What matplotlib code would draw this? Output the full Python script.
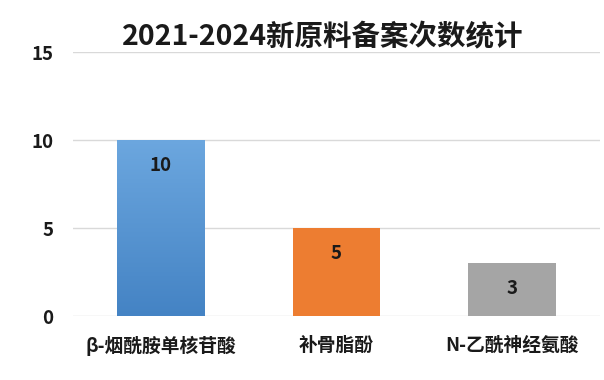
import matplotlib.pyplot as plt
import numpy as np
from matplotlib.colors import LinearSegmentedColormap

plt.rcParams['font.family'] = ['Noto Sans CJK SC', 'DejaVu Sans']

categories = ['β-烟酰胺单核苷酸', '补骨脂酚', 'N-乙酰神经氨酸']
counts = [10, 5, 3]
colors = ['#5B9BD5', '#ED7D31', '#A5A5A5']
title = '2021-2024新原料备案次数统计'

fig = plt.figure(figsize=(6.04, 3.8), dpi=100)
ax = fig.add_axes([0.121, 0.168, 0.872, 0.695])

x = np.arange(len(categories))
bars = ax.bar(x, counts, width=0.5, color=colors, zorder=2)

# blue bar has a soft vertical gradient
blue = LinearSegmentedColormap.from_list('blue', ['#4483C4', '#6CA7DF'])
b = bars[0]
grad = np.linspace(0, 1, 256).reshape(-1, 1)
img = ax.imshow(grad, cmap=blue, aspect='auto', origin='lower', zorder=2.1,
                extent=(b.get_x(), b.get_x() + b.get_width(), 0, b.get_height()))
img.set_clip_path(b)

for xi, v in zip(x, counts):
    ax.annotate(str(v), (xi, v), xytext=(0, -18), textcoords='offset points',
                ha='center', va='center', fontsize=13.5, fontweight='bold',
                color='#1a1a1a', zorder=3)

ax.set_xlim(-0.5, 2.5)
ax.set_ylim(0, 15)
ax.set_yticks([0, 5, 10, 15])
ax.set_xticks(x)
ax.set_xticklabels(categories, fontsize=13.5, fontweight='bold')
for lbl in ax.get_yticklabels():
    lbl.set_fontsize(13.5)
    lbl.set_fontweight('bold')
ax.tick_params(axis='both', length=0, colors='#1a1a1a')
ax.tick_params(axis='y', pad=14)
ax.tick_params(axis='x', pad=14)
ax.grid(axis='y', color='#D9D9D9', linewidth=1, zorder=0)
for s in ax.spines.values():
    s.set_visible(False)

fig.text(0.535, 0.902, title, ha='center', va='center', fontsize=20.5,
         fontweight='bold', color='#1a1a1a')

fig.savefig('out.png', dpi=100)
